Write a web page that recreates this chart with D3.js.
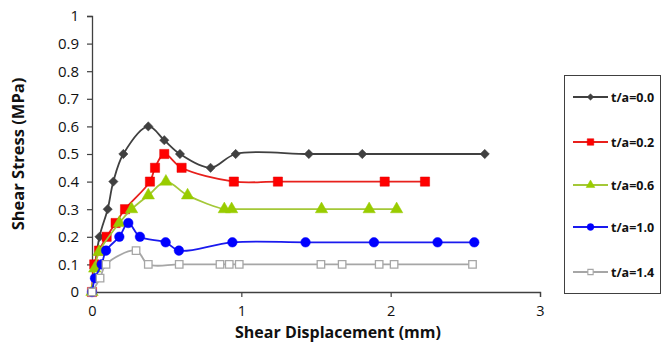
<!DOCTYPE html>
<html>
<head>
<meta charset="utf-8">
<script src="https://cdn.jsdelivr.net/npm/d3@7"></script>
<style>
  html, body { margin: 0; padding: 0; background: #fff; }
  svg { display: block; font-family: "Open Sans", "DejaVu Sans", sans-serif; }
</style>
</head>
<body>
<svg id="chart" width="662" height="354"></svg>
<script>
// Shear stress vs. shear displacement for several t/a ratios
const seriesNames = ["t/a=0.0", "t/a=0.2", "t/a=0.6", "t/a=1.0", "t/a=1.4"];

const disp00 = [0, 0.05, 0.105, 0.143, 0.21, 0.377, 0.484, 0.589, 0.794, 0.962, 1.452, 1.81, 2.63];
const stress00 = [0, 0.2, 0.3, 0.4, 0.5, 0.6, 0.55, 0.5, 0.45, 0.5, 0.5, 0.5, 0.5];

const disp02 = [0, 0.015, 0.047, 0.098, 0.158, 0.221, 0.388, 0.422, 0.484, 0.6, 0.95, 1.245, 1.96, 2.23];
const stress02 = [0, 0.1, 0.15, 0.2, 0.25, 0.3, 0.4, 0.45, 0.5, 0.45, 0.4, 0.4, 0.4, 0.4];

const disp06 = [0, 0.018, 0.047, 0.183, 0.265, 0.377, 0.495, 0.64, 0.886, 0.935, 1.537, 1.856, 2.04];
const stress06 = [0, 0.085, 0.145, 0.25, 0.3, 0.35, 0.4, 0.35, 0.3, 0.3, 0.3, 0.3, 0.3];

const disp10 = [0, 0.02, 0.065, 0.094, 0.183, 0.243, 0.321, 0.493, 0.582, 0.94, 1.43, 1.888, 2.314, 2.56];
const stress10 = [0, 0.05, 0.1, 0.15, 0.2, 0.25, 0.2, 0.18, 0.15, 0.18, 0.18, 0.18, 0.18, 0.18];

const disp14 = [0, 0.054, 0.094, 0.295, 0.377, 0.584, 0.857, 0.919, 0.986, 1.533, 1.675, 1.923, 2.023, 2.548];
const stress14 = [0, 0.05, 0.1, 0.15, 0.1, 0.1, 0.1, 0.1, 0.1, 0.1, 0.1, 0.1, 0.1, 0.1];

const xTicks = [0, 1, 2, 3];
const yTicks = [0, 0.1, 0.2, 0.3, 0.4, 0.5, 0.6, 0.7, 0.8, 0.9, 1];

const seriesData = [
  [disp00, stress00], [disp02, stress02], [disp06, stress06], [disp10, stress10], [disp14, stress14]
];

const styles = [
  { line: "#404040", fill: "#404040", stroke: "#404040", symbol: d3.symbolDiamond2, size: 55 },
  { line: "#e8201c", fill: "#ff0000", stroke: "#e00000", symbol: d3.symbolSquare, size: 85 },
  { line: "#a4c838", fill: "#99cc00", stroke: "#99cc00", symbol: d3.symbolTriangle, size: 66 },
  { line: "#1a1aee", fill: "#0000ff", stroke: "#0000ff", symbol: d3.symbolCircle, size: 72 },
  { line: "#a6a6a6", fill: "#ffffff", stroke: "#a6a6a6", symbol: d3.symbolSquare, size: 56 }
];

const svg = d3.select("#chart");
const x = d3.scaleLinear().domain([0, 3]).range([92, 540]);
const y = d3.scaleLinear().domain([0, 1]).range([292, 16]);

// Axes
const yAxis = d3.axisLeft(y).tickValues(yTicks).tickSize(5).tickPadding(6)
  .tickFormat(d => d3.format("")(+d.toFixed(1)));
const xAxis = d3.axisBottom(x).tickValues(xTicks).tickSize(5).tickPadding(9)
  .tickFormat(d3.format("d"));

const gy = svg.append("g").attr("transform", `translate(${x(0)},0)`).call(yAxis);
const gx = svg.append("g").attr("transform", `translate(0,${y(0)})`).call(xAxis);
[gx, gy].forEach(g => {
  g.select(".domain").attr("stroke", "#404040").attr("stroke-width", 1.3);
  g.selectAll(".tick line").attr("stroke", "#404040").attr("stroke-width", 1.2);
  g.selectAll(".tick text").attr("fill", "#111").style("font-size", "15px")
    .style("font-family", "'Open Sans', sans-serif");
});
gx.selectAll(".tick text").style("font-size", "14.5px");
gy.selectAll(".tick text").attr("dx", "-2");

// Axis titles
svg.append("text")
  .attr("transform", `translate(24,${(y(0) + y(1)) / 2}) rotate(-90)`)
  .attr("text-anchor", "middle")
  .style("font-size", "16.5px").style("font-weight", "bold").attr("fill", "#111")
  .text("Shear Stress (MPa)");
svg.append("text")
  .attr("x", 338).attr("y", 338)
  .attr("text-anchor", "middle")
  .style("font-size", "16px").style("font-weight", "bold").attr("fill", "#111")
  .text("Shear Displacement (mm)");

// Series lines and markers
const line = d3.line().x(d => x(d[0])).y(d => y(d[1])).curve(d3.curveCatmullRom.alpha(0.5));

seriesData.forEach(([xs, ys], i) => {
  const pts = xs.map((v, k) => [v, ys[k]]);
  const st = styles[i];
  const g = svg.append("g");
  g.append("path").datum(pts).attr("d", line)
    .attr("fill", "none").attr("stroke", st.line).attr("stroke-width", 1.8);
  g.selectAll("path.m").data(pts).enter().append("path").attr("class", "m")
    .attr("transform", d => `translate(${x(d[0])},${y(d[1])})`)
    .attr("d", d3.symbol(st.symbol, st.size))
    .attr("fill", st.fill).attr("stroke", st.stroke).attr("stroke-width", i === 4 ? 1.3 : 0.5);
});

// Legend
const lg = svg.append("g");
lg.append("rect").attr("x", 564.5).attr("y", 75.5).attr("width", 96).attr("height", 218)
  .attr("fill", "#fff").attr("stroke", "#404040").attr("stroke-width", 1);
const legendY = [97, 142, 185, 227, 272];
seriesNames.forEach((name, i) => {
  const st = styles[i];
  const yy = legendY[i];
  lg.append("line").attr("x1", 573).attr("x2", 608).attr("y1", yy).attr("y2", yy)
    .attr("stroke", st.line).attr("stroke-width", 1.8);
  lg.append("path").attr("transform", `translate(590.5,${yy})`)
    .attr("d", d3.symbol(st.symbol, st.size * 0.5))
    .attr("fill", st.fill).attr("stroke", st.stroke).attr("stroke-width", i === 4 ? 1.1 : 0.5);
  lg.append("text").attr("x", 611).attr("y", yy + 4.5)
    .style("font-size", "12.5px").style("font-weight", "bold").attr("fill", "#111")
    .text(name);
});
</script>
</body>
</html>
